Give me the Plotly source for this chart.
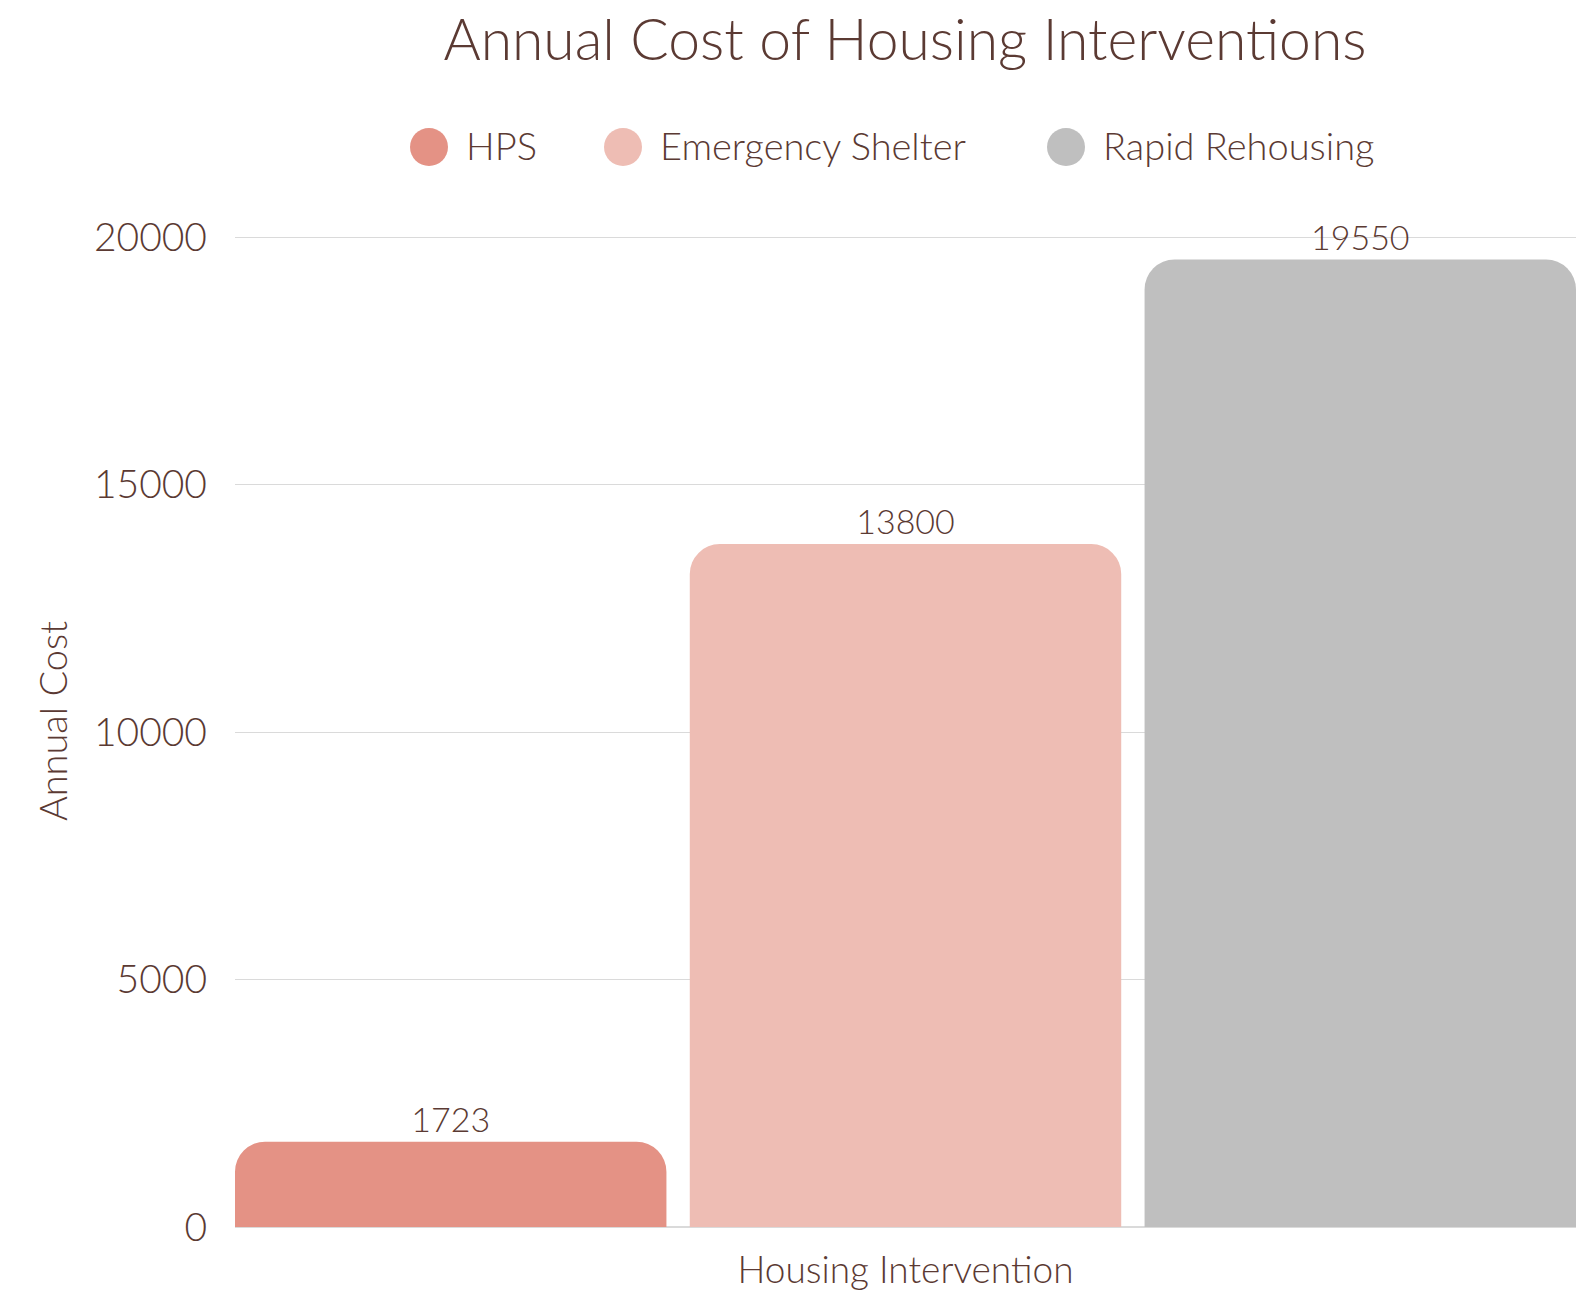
import plotly.graph_objects as go

categories = ["Housing Intervention"]
series_names = ["HPS", "Emergency Shelter", "Rapid Rehousing"]
series_values = [1723, 13800, 19550]
colors = ["#E49285", "#EEBDB4", "#BFBFBF"]
y_ticks = [0, 5000, 10000, 15000, 20000]

TXT = "#5B3A33"
FONT = "Lato, 'Open Sans', sans-serif"
bgg = 23 / 448

OFF = 8  # page body margin offset
W, H = 1591 - OFF, 1293 - OFF
L, R, T, B = 235 - OFF, 15, 215 - OFF, 66


def px_x(p):  # page pixel -> paper
    return (p - OFF - L) / (W - L - R)


def px_y(p):
    return 1 - (p - OFF - T) / (H - T - B)


fig = go.Figure()
for name, val, col in zip(series_names, series_values, colors):
    fig.add_trace(go.Bar(
        x=[categories[0]], y=[val], name=name,
        marker=dict(color=col, cornerradius=30, line=dict(width=0)),
        text=[str(val)], textposition="outside", cliponaxis=False,
        textfont=dict(size=34, color=TXT, weight=300),
        showlegend=False,
    ))

# custom legend (large circles)
leg_circle_x = [429, 623, 1066]
leg_y = 147
rad = 19
for nm, col, cx in zip(series_names, colors, leg_circle_x):
    fig.add_shape(type="circle", xref="paper", yref="paper",
                  x0=px_x(cx - rad), x1=px_x(cx + rad),
                  y0=px_y(leg_y + rad), y1=px_y(leg_y - rad),
                  fillcolor=col, line=dict(width=0), layer="above")
    fig.add_annotation(text=nm, xref="paper", yref="paper",
                       x=px_x(cx + 35), y=px_y(leg_y - 2), xanchor="left", yanchor="middle",
                       showarrow=False, font=dict(size=38, color=TXT, weight=300))

fig.update_layout(
    width=W, height=H,
    barmode="group", bargap=0, bargroupgap=bgg,
    paper_bgcolor="white", plot_bgcolor="white",
    font=dict(family=FONT, color=TXT, weight=300),
    title=dict(text="Annual Cost of Housing Interventions", x=px_x(905), xref="paper",
               xanchor="center", y=1 - (40 - OFF) / H, yanchor="middle",
               font=dict(size=57, color=TXT, weight=300)),
    margin=dict(l=L, r=R, t=T, b=B, autoexpand=False),
    showlegend=False,
)
fig.update_xaxes(
    range=[-0.5 + bgg / 6, 0.5 - bgg / 6], automargin=False,
    showticklabels=False, showgrid=False, zeroline=False, showline=False,
    title=dict(text="Housing Intervention", font=dict(size=37, color=TXT, weight=300), standoff=30),
)
fig.update_yaxes(
    range=[0, 20450], tickvals=y_ticks, ticktext=[str(t) for t in y_ticks], automargin=False,
    showgrid=True, gridcolor="#DADADA", gridwidth=1,
    zeroline=True, zerolinecolor="#DADADA",
    tickfont=dict(size=39, color=TXT, weight=300), ticks="", ticklabelstandoff=27,
    title=dict(text="Annual Cost", font=dict(size=38, color=TXT, weight=300), standoff=14),
)
fig.write_html("out.html")
